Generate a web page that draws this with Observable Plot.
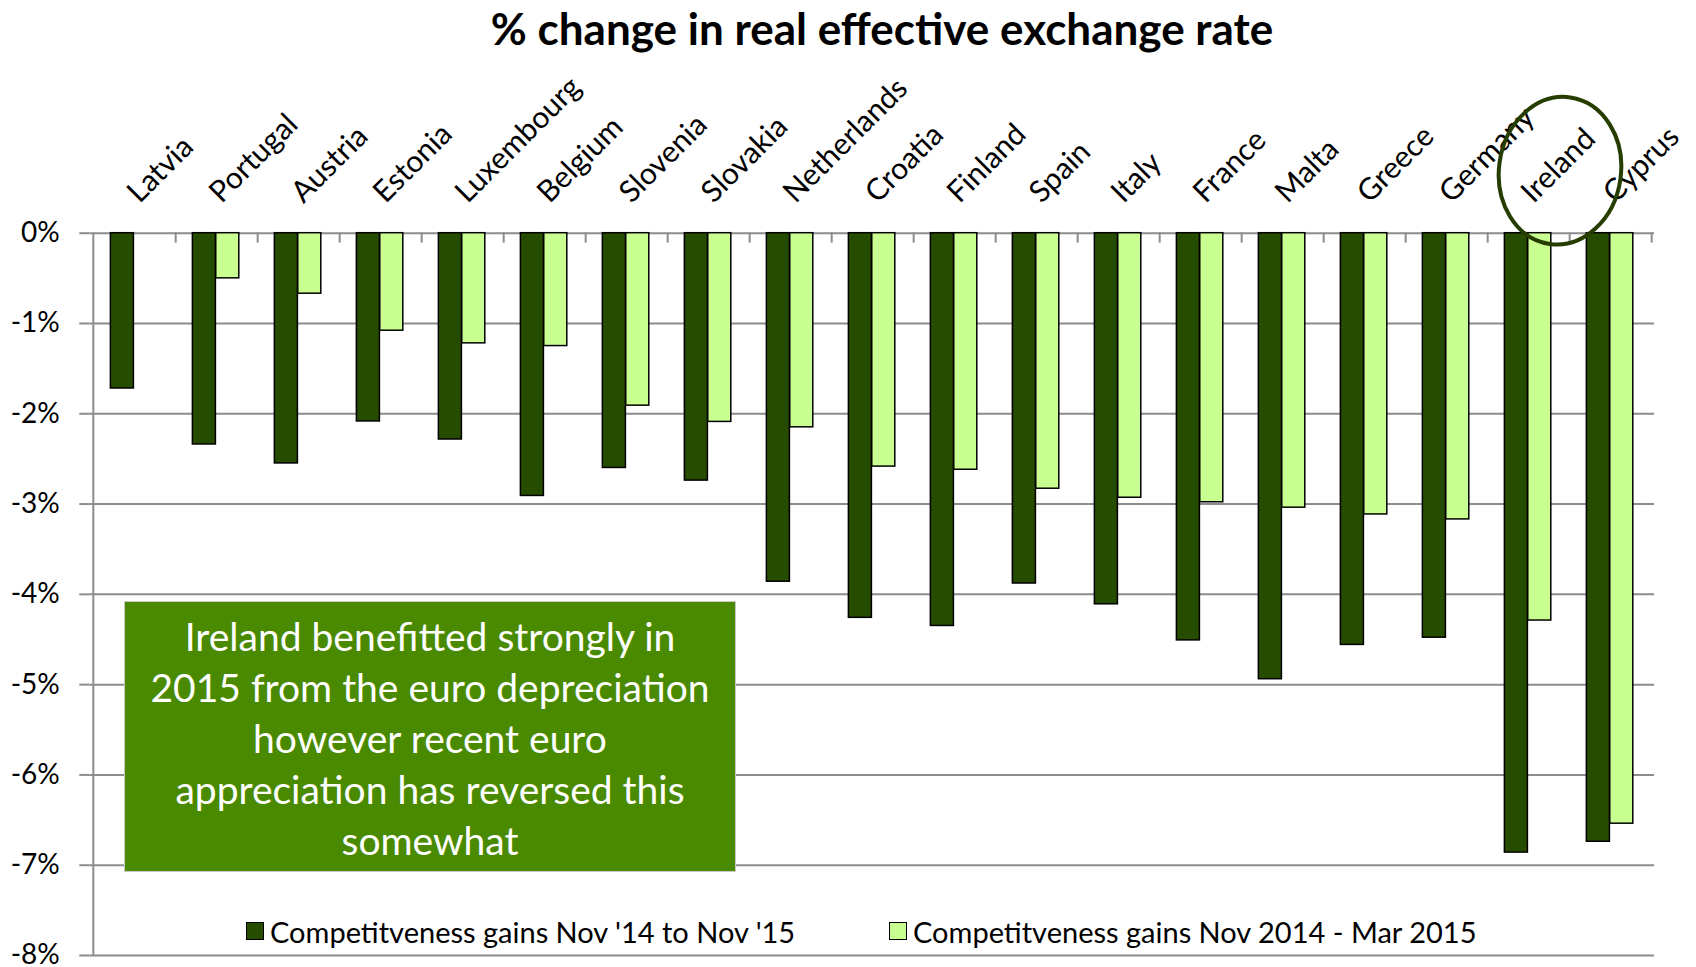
<!DOCTYPE html>
<html>
<head>
<meta charset="utf-8">
<script src="https://cdn.jsdelivr.net/npm/d3@7"></script>
<script src="https://cdn.jsdelivr.net/npm/@observablehq/plot@0.6"></script>
<style>
  body { margin: 0; background: #fff; font-family: Lato, "Open Sans", sans-serif; }
  #wrap { position: relative; width: 1696px; height: 967px; overflow: hidden; background: #fff; }
  #title { position: absolute; top: 0; left: 882px; transform: translateX(-50%); font-weight: bold;
           font-size: 44px; white-space: nowrap; line-height: 56px; color: #000; }
  #chart { position: absolute; top: 55px; left: 0; }
  #note { position: absolute; left: 124px; top: 601px; width: 612px; height: 271px; background: #4a8a00;
          border: 1px solid #c8c8c8; box-sizing: border-box; color: #fff; font-size: 39px; text-align: center;
          line-height: 51px; padding-top: 9px; }
  .leg { position: absolute; top: 913px; height: 36px; display: flex; align-items: center; font-size: 29px; color: #000; white-space: nowrap; }
  .leg .sw { width: 18px; height: 18px; border: 1.5px solid #000; margin-right: 6px; box-sizing: border-box; }
</style>
</head>
<body>
<div id="wrap">
  <div id="title"></div>
  <div id="chart"></div>
  <div id="note"></div>
</div>
<script>
const titleText = "% change in real effective exchange rate";
const countries = ["Latvia","Portugal","Austria","Estonia","Luxembourg","Belgium","Slovenia","Slovakia","Netherlands","Croatia","Finland","Spain","Italy","France","Malta","Greece","Germany","Ireland","Cyprus"];
const seriesNames = ["Competitveness gains Nov '14 to Nov '15", "Competitveness gains Nov 2014 - Mar 2015"];
const gainsNov14Nov15 = [-1.72,-2.34,-2.55,-2.085,-2.285,-2.91,-2.60,-2.74,-3.86,-4.26,-4.35,-3.88,-4.11,-4.51,-4.94,-4.56,-4.48,-6.86,-6.74];
const gainsNov14Mar15 = [null,-0.50,-0.67,-1.08,-1.22,-1.25,-1.91,-2.09,-2.15,-2.585,-2.62,-2.83,-2.93,-2.98,-3.04,-3.115,-3.17,-4.29,-6.54];
const yTicks = [0,-1,-2,-3,-4,-5,-6,-7,-8];
const noteLines = ["Ireland benefitted strongly in","2015 from the euro depreciation","however recent euro","appreciation has reversed this","somewhat"];
const highlight = "Ireland";
const colors = ["#264c00", "#c8ff90"];

const W = 1696, H = 912, ML = 89.3, MR = 42, MT = 177.7, MB = 12;
const bw = (W - ML - MR) / countries.length;
const barW = 0.284 * bw, lead = 0.211 * bw;

const d1 = countries.map((c, i) => ({country: c, value: gainsNov14Nov15[i]}));
const d2 = countries.map((c, i) => ({country: c, value: gainsNov14Mar15[i]}));
const grid = "#8c8c8c";

document.getElementById("title").textContent = titleText;

const plot = Plot.plot({
  width: W, height: H, marginTop: MT, marginBottom: MB, marginLeft: ML, marginRight: MR,
  style: {fontFamily: "Lato, sans-serif", fontSize: "28px", color: "#000", background: "transparent", overflow: "visible"},
  x: {domain: countries, padding: 0, axis: null},
  y: {domain: [-8, 0], axis: null},
  marks: [
    Plot.ruleY(yTicks, {stroke: grid, strokeWidth: 2}),
    Plot.ruleX([countries[0]], {x: d => d, y1: 0, y2: -8, dx: -bw / 2, stroke: grid, strokeWidth: 2}),
    Plot.ruleX(countries, {x: d => d, y1: 0, y2: -0.11, dx: bw / 2, stroke: grid, strokeWidth: 2}),
    Plot.barY(d1, {x: "country", y: "value", fill: colors[0], stroke: "#000", strokeWidth: 1.5,
      insetLeft: lead, insetRight: bw - lead - barW}),
    Plot.barY(d2, {x: "country", y: "value", fill: colors[1], stroke: "#000", strokeWidth: 1.5,
      insetLeft: lead + barW, insetRight: bw - lead - 2 * barW}),
    Plot.axisY({ticks: yTicks, tickFormat: d => d + "%", tickSize: 10, tickPadding: 20, stroke: grid, strokeWidth: 2, fill: "#000", fontSize: 28, label: null}),
    Plot.text(countries, {x: d => d, y: 0, text: d => d, rotate: -45, textAnchor: "start", lineAnchor: "bottom",
      dx: 5, dy: -29, fontSize: 30, fill: "#000"})
  ]
});
document.getElementById("chart").appendChild(plot);

// highlight ellipse around the Ireland label
const xs = plot.scale("x"), ys = plot.scale("y");
const cx = xs.apply(highlight) + xs.bandwidth / 2 + 32;
const cy = ys.apply(0) - 62;
d3.select(plot).append("ellipse")
  .attr("cx", cx).attr("cy", cy).attr("rx", 61).attr("ry", 74)
  .attr("transform", `rotate(8 ${cx} ${cy})`)
  .attr("fill", "none").attr("stroke", "#263d00").attr("stroke-width", 4);

// annotation text
const note = document.getElementById("note");
noteLines.forEach(t => { const div = document.createElement("div"); div.textContent = t; note.appendChild(div); });

// legend
const legLeft = [246, 889];
seriesNames.forEach((name, i) => {
  const item = document.createElement("div");
  item.className = "leg";
  item.style.left = legLeft[i] + "px";
  const sw = document.createElement("div");
  sw.className = "sw"; sw.style.background = colors[i];
  const tx = document.createElement("span"); tx.textContent = name;
  item.appendChild(sw); item.appendChild(tx);
  document.getElementById("wrap").appendChild(item);
});
</script>
</body>
</html>
